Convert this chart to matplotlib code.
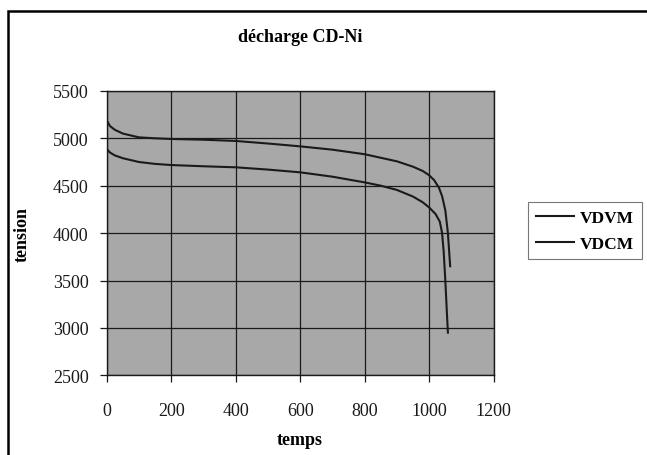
import matplotlib
matplotlib.use("Agg")
import matplotlib.pyplot as plt
from matplotlib.patches import Rectangle

# décharge CD-Ni : tension vs temps
t_vdvm = [0, 0, 0, 10, 25, 50, 100, 150, 200, 300, 400, 500, 600, 700, 800,
          900, 950, 980, 1000, 1015, 1030, 1040, 1050, 1058, 1062, 1065]
vdvm = [4450, 5500, 5190, 5130, 5090, 5050, 5010, 5000, 4993, 4985, 4972, 4945,
        4915, 4880, 4832, 4757, 4700, 4655, 4610, 4560, 4480, 4390, 4240, 4000,
        3800, 3650]

t_vdcm = [0, 10, 25, 50, 100, 150, 200, 300, 400, 500, 600, 700, 800, 850,
          900, 950, 980, 1000, 1020, 1033, 1040, 1045, 1050, 1055, 1058]
vdcm = [4890, 4850, 4820, 4790, 4750, 4730, 4718, 4705, 4694, 4670, 4641, 4595,
        4535, 4500, 4455, 4385, 4325, 4270, 4200, 4120, 4000, 3800, 3500, 3150,
        2950]

x_ticks = [0, 200, 400, 600, 800, 1000, 1200]
y_ticks = [2500, 3000, 3500, 4000, 4500, 5000, 5500]

plt.rcParams['font.family'] = ['Liberation Serif', 'DejaVu Serif']

W, H = 647, 456
fig = plt.figure(figsize=(W / 100, H / 100), dpi=100)
fig.patch.set_facecolor('white')

# outer frame of the scanned sheet (open on right/bottom)
fig.patches.append(Rectangle((8 / W, -0.1), 1.2, (H - 12) / H + 0.1,
                             transform=fig.transFigure, fill=False,
                             edgecolor='black', linewidth=1.8))

ax = fig.add_axes([106.7 / W, 1 - 376.3 / H, 387 / W, 284.4 / H])
ax.set_facecolor('#a8a8a8')

ax.plot(t_vdvm, vdvm, color='#1a1a1a', lw=1.5, label='VDVM')
ax.plot(t_vdcm, vdcm, color='#1a1a1a', lw=1.5, label='VDCM')

ax.set_xlim(0, 1200)
ax.set_ylim(2500, 5500)
ax.set_xticks(x_ticks)
ax.set_yticks(y_ticks)
ax.grid(True, color='#1a1a1a', lw=0.9)
ax.set_axisbelow(True)
for s in ax.spines.values():
    s.set_color('#1a1a1a')
    s.set_linewidth(1.0)
ax.tick_params(direction='out', length=5, width=0.9, labelsize=13,
               colors='#1a1a1a', pad=8)
ax.tick_params(axis='x', pad=14)

ax.set_title('décharge CD-Ni', fontsize=13, fontweight='bold', pad=36)
ax.set_xlabel('temps', fontsize=13, fontweight='bold', labelpad=9)
ax.set_ylabel('tension', fontsize=13, fontweight='bold', labelpad=16)

leg = ax.legend(loc='center left', bbox_to_anchor=(527.7 / W, 1 - 231.7 / H),
                bbox_transform=fig.transFigure, borderaxespad=0,
                frameon=True, fancybox=False,
                prop={'size': 12.5, 'weight': 'bold'}, handlelength=2.2,
                handletextpad=0.35, borderpad=0.45, labelspacing=0.55)
leg.get_frame().set_edgecolor('#555555')
leg.get_frame().set_linewidth(0.8)

fig.savefig('out.png', dpi=100)
